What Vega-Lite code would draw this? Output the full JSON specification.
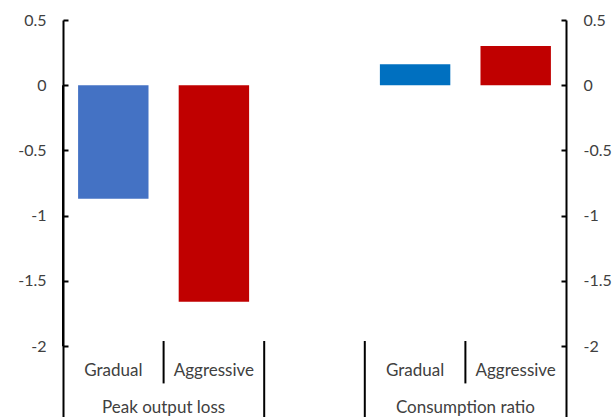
{
  "$schema": "https://vega.github.io/schema/vega-lite/v6.json",
  "autosize": {"type": "none"},
  "padding": {"left": 63, "top": 20, "right": 50, "bottom": 0},
  "width": 503,
  "height": 398,
  "background": "white",
  "config": {"view": {"stroke": null}},
  "datasets": {
    "bars": [
      {"slot": "PG", "group": "Peak output loss", "scenario": "Gradual", "value": -0.87},
      {"slot": "PA", "group": "Peak output loss", "scenario": "Aggressive", "value": -1.66},
      {"slot": "CG", "group": "Consumption ratio", "scenario": "Gradual", "value": 0.16},
      {"slot": "CA", "group": "Consumption ratio", "scenario": "Aggressive", "value": 0.3}
    ],
    "groups": [
      {"slot": "PA", "label": "Peak output loss"},
      {"slot": "CA", "label": "Consumption ratio"}
    ],
    "short": [{"slot": "PA"}, {"slot": "CA"}],
    "long": [{"slot": "gap"}, {"slot": "CG"}]
  },
  "resolve": {"scale": {"y": "independent"}, "axis": {"y": "independent"}},
  "layer": [
    {
      "encoding": {
        "x": {"field": "slot", "type": "nominal", "axis": null,
              "scale": {"domain": ["PG", "PA", "gap", "CG", "CA"], "paddingInner": 0, "paddingOuter": 0}}
      },
      "layer": [
        {
          "data": {"name": "bars"},
          "mark": {"type": "bar", "width": {"band": 0.7}},
          "encoding": {
            "y": {"field": "value", "type": "quantitative",
                  "scale": {"domain": [-2.55, 0.5], "nice": false, "zero": false},
                  "axis": {"orient": "left", "values": [-2, -1.5, -1, -0.5, 0, 0.5], "grid": false,
                           "labelExpr": "'' + datum.value",
                           "domainColor": "black", "domainWidth": 2, "tickColor": "black", "tickWidth": 2,
                           "tickSize": -5, "labelPadding": 22, "labelFont": "Lato", "labelFontSize": 16,
                           "labelColor": "#404040", "title": null}},
            "y2": {"datum": 0},
            "color": {"field": "slot", "type": "nominal", "legend": null,
                      "scale": {"domain": ["PG", "PA", "CG", "CA"], "range": ["#4472C4", "#C00000", "#0070C0", "#C00000"]}}
          }
        },
        {
          "data": {"values": [{}]},
          "mark": {"type": "rule", "color": "black", "strokeWidth": 2},
          "encoding": {"y": {"datum": -2}}
        },
        {
          "data": {"name": "short"},
          "mark": {"type": "rule", "color": "black", "strokeWidth": 2},
          "encoding": {
            "x": {"field": "slot", "type": "nominal", "bandPosition": 0},
            "y": {"datum": -1.96},
            "y2": {"datum": -2.285}
          }
        },
        {
          "data": {"name": "long"},
          "mark": {"type": "rule", "color": "black", "strokeWidth": 2},
          "encoding": {
            "x": {"field": "slot", "type": "nominal", "bandPosition": 0},
            "y": {"datum": -1.96},
            "y2": {"datum": -2.55}
          }
        },
        {
          "data": {"name": "bars"},
          "mark": {"type": "text", "font": "Lato", "fontSize": 17, "color": "#404040", "baseline": "middle"},
          "encoding": {
            "y": {"datum": -2.19},
            "text": {"field": "scenario"}
          }
        },
        {
          "data": {"name": "groups"},
          "mark": {"type": "text", "font": "Lato", "fontSize": 17, "color": "#404040", "baseline": "middle"},
          "encoding": {
            "x": {"field": "slot", "type": "nominal", "bandPosition": 0},
            "y": {"datum": -2.47},
            "text": {"field": "label"}
          }
        }
      ]
    },
    {
      "data": {"values": [{}]},
      "mark": {"type": "rule", "opacity": 0},
      "encoding": {
        "y": {"datum": 0, "type": "quantitative",
              "scale": {"domain": [-2.55, 0.5], "nice": false, "zero": false},
              "axis": {"orient": "right", "values": [-2, -1.5, -1, -0.5, 0, 0.5], "grid": false,
                       "labelExpr": "'' + datum.value",
                       "domainColor": "black", "domainWidth": 2, "tickColor": "black", "tickWidth": 2,
                       "tickSize": -5, "labelPadding": 22, "labelFont": "Lato", "labelFontSize": 16,
                       "labelColor": "#404040", "title": null}}
      }
    }
  ]
}
